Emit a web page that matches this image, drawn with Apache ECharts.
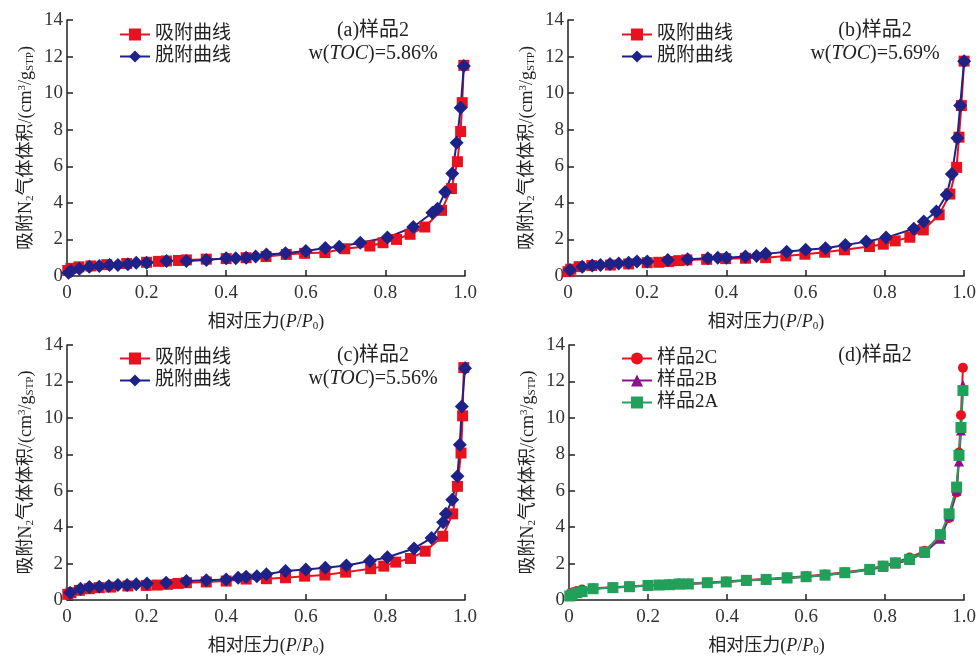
<!DOCTYPE html>
<html><head><meta charset="utf-8">
<script src="https://cdn.jsdelivr.net/npm/echarts@6/dist/echarts.min.js"></script>
<style>html,body{margin:0;padding:0;background:#fff}#c{width:979px;height:657px}</style>
</head><body><div id="c"></div>
<script>
// ---- tick labels ----
const xTicks = [0, 0.2, 0.4, 0.6, 0.8, 1.0];
const yTicks = [0, 2, 4, 6, 8, 10, 12, 14];
const legendAdsDes = ['吸附曲线', '脱附曲线'];
const legendSamples = ['样品2C', '样品2B', '样品2A'];
const panelTitles = ['(a)样品2', '(b)样品2', '(c)样品2', '(d)样品2'];
const tocValues = ['5.86%', '5.69%', '5.56%'];

// ---- panel (a) ----
const aAdsP = [0.002,0.01,0.03,0.06,0.1,0.15,0.2,0.23,0.25,0.28,0.3,0.35,0.4,0.45,0.5,0.551,0.597,0.648,0.698,0.761,0.794,0.828,0.862,0.899,0.941,0.966,0.981,0.989,0.993,0.997];
const aAdsV = [0.3,0.42,0.5,0.55,0.62,0.68,0.75,0.8,0.82,0.85,0.88,0.92,0.95,1.0,1.06,1.18,1.24,1.28,1.49,1.64,1.82,2.0,2.28,2.68,3.59,4.78,6.25,7.9,9.48,11.52];
const aDesP = [0.997,0.989,0.979,0.968,0.95,0.931,0.918,0.87,0.805,0.737,0.684,0.649,0.6,0.549,0.501,0.474,0.45,0.424,0.4,0.35,0.3,0.25,0.2,0.174,0.153,0.128,0.107,0.081,0.056,0.031,0.01,0.004];
const aDesV = [11.48,9.2,7.29,5.61,4.59,3.68,3.46,2.68,2.1,1.82,1.6,1.53,1.37,1.24,1.18,1.06,1.0,0.97,0.97,0.87,0.82,0.82,0.73,0.73,0.64,0.6,0.6,0.55,0.51,0.4,0.27,0.18];

// ---- panel (b) ----
const bAdsP = [0.0,0.007,0.028,0.06,0.107,0.153,0.2,0.229,0.254,0.28,0.3,0.35,0.398,0.448,0.499,0.55,0.598,0.648,0.698,0.761,0.796,0.826,0.863,0.897,0.937,0.964,0.981,0.987,0.993,1.0];
const bAdsV = [0.24,0.37,0.51,0.57,0.6,0.66,0.73,0.75,0.79,0.84,0.88,0.91,0.95,0.97,1.0,1.1,1.19,1.3,1.43,1.61,1.74,1.92,2.12,2.52,3.35,4.48,5.94,7.59,9.32,11.75];
const bDesP = [1.0,0.99,0.983,0.969,0.956,0.93,0.898,0.873,0.803,0.753,0.7,0.65,0.6,0.552,0.499,0.476,0.448,0.4,0.378,0.353,0.302,0.252,0.2,0.174,0.153,0.128,0.106,0.082,0.061,0.036,0.005];
const bDesV = [11.75,9.32,7.55,5.58,4.44,3.53,2.98,2.58,2.1,1.88,1.7,1.52,1.43,1.33,1.21,1.1,1.06,1.0,1.0,0.97,0.91,0.88,0.79,0.79,0.73,0.69,0.66,0.6,0.57,0.51,0.33];

// ---- panel (c) ----
const cAdsP = [0.002,0.01,0.031,0.056,0.081,0.11,0.153,0.199,0.227,0.253,0.279,0.3,0.35,0.4,0.45,0.501,0.549,0.597,0.648,0.7,0.763,0.796,0.826,0.863,0.9,0.944,0.969,0.981,0.99,0.994,0.997];
const cAdsV = [0.31,0.4,0.53,0.62,0.68,0.71,0.77,0.8,0.82,0.86,0.91,0.95,0.99,1.04,1.15,1.17,1.22,1.31,1.37,1.53,1.72,1.86,2.08,2.28,2.68,3.5,4.73,6.24,8.07,10.11,12.76];
const cDesP = [1.0,0.992,0.987,0.981,0.968,0.952,0.945,0.916,0.872,0.805,0.761,0.702,0.649,0.6,0.549,0.501,0.477,0.45,0.43,0.4,0.35,0.3,0.249,0.201,0.174,0.151,0.128,0.105,0.081,0.056,0.034,0.008];
const cDesV = [12.72,10.62,8.52,6.79,5.51,4.73,4.27,3.41,2.83,2.35,2.14,1.9,1.77,1.68,1.59,1.41,1.31,1.28,1.22,1.13,1.09,1.04,0.95,0.91,0.86,0.82,0.82,0.77,0.73,0.71,0.62,0.4];

// ---- panel (d) ----
const dP = [0.002,0.008,0.02,0.033,0.061,0.111,0.153,0.2,0.228,0.254,0.279,0.302,0.35,0.398,0.449,0.499,0.552,0.6,0.648,0.698,0.761,0.795,0.826,0.862,0.9,0.94,0.962,0.981,0.987,0.992,0.997];
const d2CV = [0.28,0.4,0.5,0.58,0.64,0.7,0.75,0.8,0.84,0.86,0.9,0.9,0.96,1.02,1.1,1.15,1.23,1.3,1.4,1.53,1.7,1.88,2.06,2.33,2.7,3.5,4.5,5.9,8.1,10.15,12.75];
const d2BV = [0.25,0.35,0.45,0.52,0.62,0.68,0.73,0.79,0.82,0.84,0.87,0.88,0.94,0.99,1.07,1.12,1.2,1.27,1.36,1.48,1.66,1.83,2.0,2.2,2.6,3.36,4.6,6.0,7.6,9.3,11.8];
const d2AV = [0.22,0.31,0.4,0.46,0.62,0.68,0.73,0.8,0.82,0.84,0.88,0.88,0.95,0.99,1.08,1.13,1.22,1.28,1.37,1.5,1.68,1.86,2.04,2.23,2.63,3.59,4.73,6.2,7.94,9.47,11.5];

const zip = (xs, ys) => xs.map((x, i) => [x, ys[i]]);
const FONT = '"Liberation Serif", "Noto Sans CJK SC", serif';
const RED = '#e8121f', BLUE = '#1e2288', PURPLE = '#8c128c', GREEN = '#20a058';

const grids = [
  {left: 67, top: 20, width: 398, height: 256},
  {left: 568, top: 20, width: 398, height: 256},
  {left: 67, top: 345, width: 398, height: 256},
  {left: 569, top: 345, width: 398, height: 256}
];

const xAxes = grids.map((g, i) => ({
  type: 'value', gridIndex: i, min: xTicks[0], max: xTicks[xTicks.length - 1], interval: 0.2,
  name: '相对压力({i|P}/{i|P}{sub|0})', nameLocation: 'middle', nameGap: 37,
  nameTextStyle: {fontFamily: FONT, fontSize: 18, color: '#222',
    rich: {i: {fontStyle: 'italic', fontFamily: FONT, fontSize: 18, color: '#222'},
           sub: {fontSize: 11, fontFamily: FONT, color: '#222', verticalAlign: 'bottom', padding: [8, 0, 0, 0]}}},
  axisLine: {lineStyle: {color: '#222', width: 1.5}},
  axisTick: {inside: true, length: 6, lineStyle: {color: '#222', width: 1.5}},
  axisLabel: {fontFamily: FONT, fontSize: 19, color: '#333', margin: 8,
    formatter: v => v === 0 ? '0' : v.toFixed(1)},
  splitLine: {show: false}
}));

const yAxes = grids.map((g, i) => ({
  type: 'value', gridIndex: i, min: yTicks[0], max: yTicks[yTicks.length - 1], interval: 2,
  name: '吸附N{sub|2}气体体积/(cm{sup|3}/g{sub|STP})', nameLocation: 'middle', nameGap: 31, nameRotate: 90,
  nameTextStyle: {fontFamily: FONT, fontSize: 18, color: '#222',
    rich: {sub: {fontSize: 11, fontFamily: FONT, color: '#222', verticalAlign: 'bottom', padding: [8, 0, 0, 0]},
           sup: {fontSize: 11, fontFamily: FONT, color: '#222', verticalAlign: 'top', padding: [0, 0, 8, 0]}}},
  axisLine: {show: true, lineStyle: {color: '#222', width: 1.5}},
  axisTick: {show: true, inside: true, length: 6, lineStyle: {color: '#222', width: 1.5}},
  axisLabel: {fontFamily: FONT, fontSize: 19, color: '#333', margin: 4},
  splitLine: {show: false}
}));

function lineSeries(name, idx, data, color, symbol, size) {
  return {type: 'line', name, xAxisIndex: idx, yAxisIndex: idx, data,
    symbol, symbolSize: size, color,
    lineStyle: {color, width: 2}, itemStyle: {color}, z: 3};
}

const series = [
  lineSeries(legendAdsDes[0], 0, zip(aAdsP, aAdsV), RED, 'rect', 11),
  lineSeries(legendAdsDes[1], 0, zip(aDesP, aDesV), BLUE, 'diamond', 14),
  lineSeries(legendAdsDes[0], 1, zip(bAdsP, bAdsV), RED, 'rect', 11),
  lineSeries(legendAdsDes[1], 1, zip(bDesP, bDesV), BLUE, 'diamond', 14),
  lineSeries(legendAdsDes[0], 2, zip(cAdsP, cAdsV), RED, 'rect', 11),
  lineSeries(legendAdsDes[1], 2, zip(cDesP, cDesV), BLUE, 'diamond', 14),
  lineSeries(legendSamples[0], 3, zip(dP, d2CV), RED, 'circle', 10),
  lineSeries(legendSamples[1], 3, zip(dP, d2BV), PURPLE, 'triangle', 10),
  lineSeries(legendSamples[2], 3, zip(dP, d2AV), GREEN, 'rect', 11)
];

const legendBase = {orient: 'vertical', itemWidth: 30, itemHeight: 15, itemGap: 3,
  textStyle: {fontFamily: FONT, fontSize: 19, color: '#222'}, selectedMode: false};
const legends = [
  Object.assign({}, legendBase, {left: 114, top: 20, data: legendAdsDes}),
  Object.assign({}, legendBase, {left: 616, top: 20, data: legendAdsDes}),
  Object.assign({}, legendBase, {left: 114, top: 344, data: legendAdsDes}),
  Object.assign({}, legendBase, {left: 616, top: 344, data: legendSamples})
];

const titlePos = [[373, 31], [875, 31], [373, 356], [875, 356]];
const graphics = [];
titlePos.forEach((p, i) => {
  graphics.push({type: 'text', x: p[0], y: p[1],
    style: {text: panelTitles[i], font: '20px ' + FONT, fill: '#222', align: 'center', verticalAlign: 'middle'}});
  if (i < 3) {
    graphics.push({type: 'text', x: p[0], y: p[1] + 23,
      style: {text: '{n|w(}{i|TOC}{n|)=' + tocValues[i] + '}', align: 'center', verticalAlign: 'middle',
        rich: {n: {fontFamily: FONT, fontSize: 20, fill: '#222'},
               i: {fontFamily: FONT, fontSize: 20, fontStyle: 'italic', fill: '#222'}}}});
  }
});

const chart = echarts.init(document.getElementById('c'));
chart.setOption({
  animation: false,
  backgroundColor: '#fff',
  grid: grids,
  xAxis: xAxes,
  yAxis: yAxes,
  legend: legends,
  series,
  graphic: graphics
});
</script>
</body></html>
